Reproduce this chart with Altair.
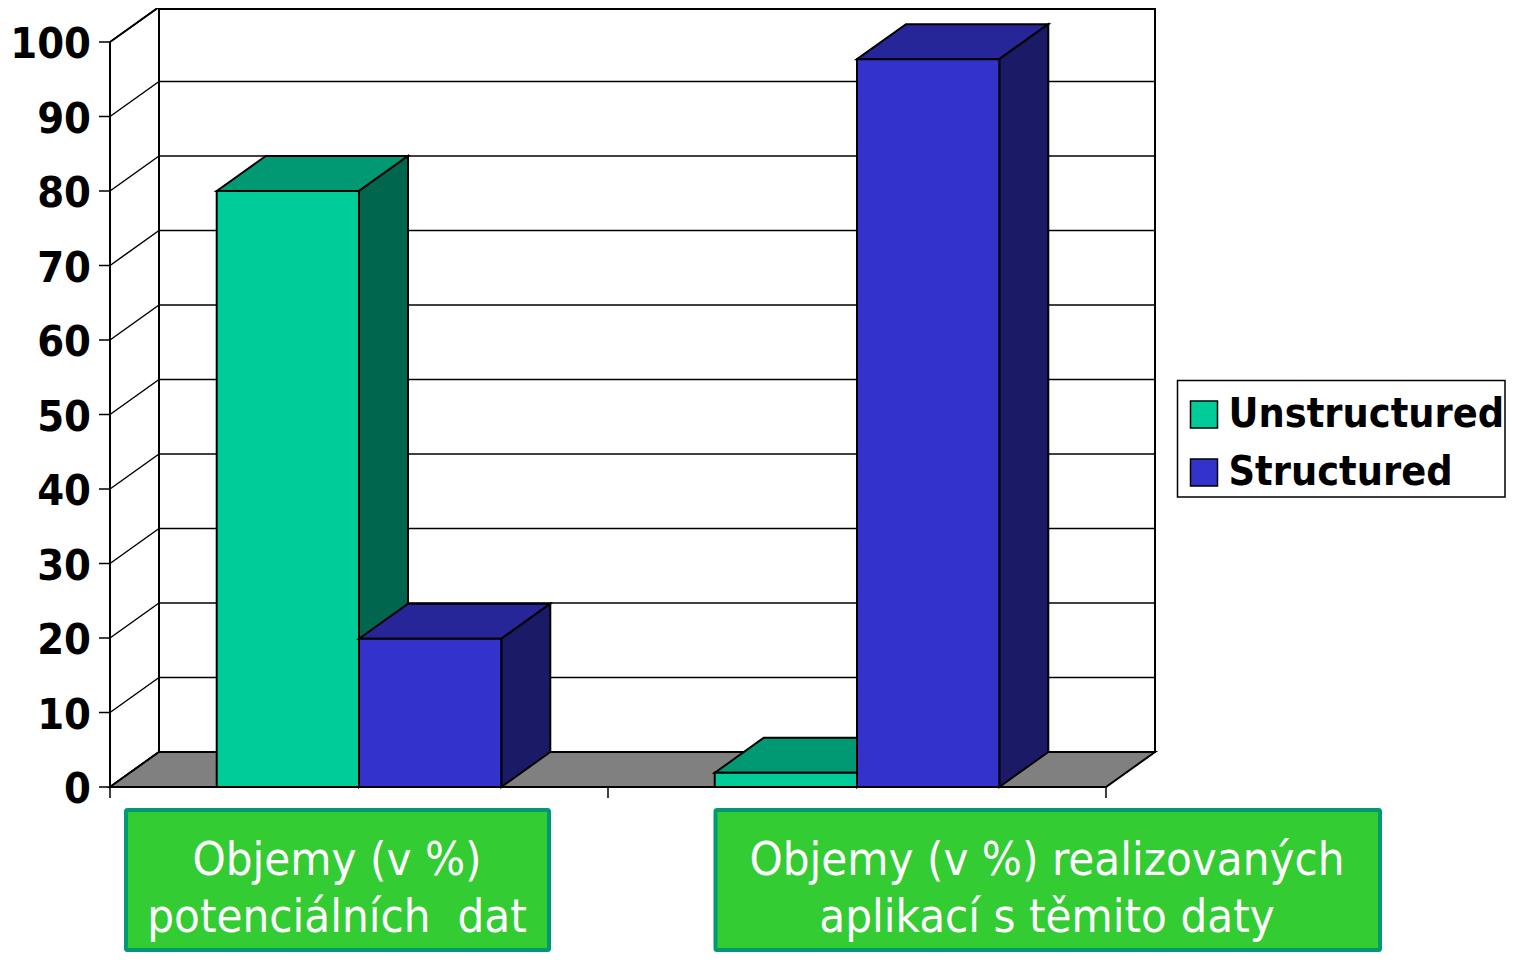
import altair as alt
import pandas as pd

categories = ["Objemy (v %) potenciálních dat", "Objemy (v %) realizovaných aplikací s těmito daty"]
series = ["Unstructured", "Structured"]
unstructured = [80, 1.9]
structured = [19.9, 97.7]
tick_values = [0, 10, 20, 30, 40, 50, 60, 70, 80, 90, 100]
box_lines = [["Objemy (v %)", "potenciálních\u00a0 dat"], ["Objemy (v %) realizovaných", "aplikací s těmito daty"]]

FONT = "DejaVu Sans Condensed"
colors = {
    "Unstructured": ("#00CC99", "#009973", "#00664D"),
    "Structured": ("#3333CC", "#262699", "#1A1A66"),
}

# page pixels <-> scale units
X0, XU, Y0, YU = 110.0, 498.0, 787.0, 7.45
W, H = 1498, 944
def ux(px): return (px - X0) / XU
def uy(py): return (Y0 - py) / YU

DX = 49 / XU
DY = 35 / YU
BAR = 1 / 3.5
TOP = 100

x_scale = alt.Scale(domain=[ux(8), ux(8 + W)], nice=False, zero=False)
y_scale = alt.Scale(domain=[uy(8 + H), uy(8)], nice=False, zero=False)
X = lambda f="x": alt.X(f"{f}:Q", scale=x_scale, axis=None, title=None)
Y = lambda f="y": alt.Y(f"{f}:Q", scale=y_scale, axis=None, title=None)
X2 = lambda f="x2": alt.X2(f"{f}:Q")
Y2 = lambda f="y2": alt.Y2(f"{f}:Q")


def area(rows, fill, sw=2.0):
    return alt.Chart(pd.DataFrame(rows)).mark_area(fill=fill, stroke="black", strokeWidth=sw, opacity=1).encode(
        x=X(), y=Y(), y2=Y2(), detail="k:N"
    )


def rules(rows, sw=1.5):
    return alt.Chart(pd.DataFrame(rows)).mark_rule(color="black", strokeWidth=sw).encode(
        x=X(), x2=X2(), y=Y(), y2=Y2()
    )


layers = []

# left wall and back wall
layers.append(area([
    {"k": "w", "x": 0, "y": TOP, "y2": 0},
    {"k": "w", "x": DX, "y": TOP + DY, "y2": DY},
], "white"))
layers.append(alt.Chart(pd.DataFrame([{"x": DX, "x2": 2 + DX, "y": DY, "y2": uy(9)}])).mark_rect(
    fill="white", stroke="black", strokeWidth=2).encode(x=X(), x2=X2(), y=Y(), y2=Y2()))

# gridlines
layers.append(rules([{"x": DX, "x2": 2 + DX, "y": t + DY, "y2": t + DY} for t in tick_values[:-1]]))
layers.append(rules([{"x": 0, "x2": DX, "y": t, "y2": t + DY} for t in tick_values]))

# floor
layers.append(area([
    {"k": "f", "x": 0, "y": 0, "y2": 0},
    {"k": "f", "x": DX, "y": DY, "y2": 0},
    {"k": "f", "x": 2, "y": DY, "y2": 0},
    {"k": "f", "x": 2 + DX, "y": DY, "y2": DY},
], "#808080"))

# legend frame
layers.append(alt.Chart(pd.DataFrame([{"x": ux(1177.5), "x2": ux(1505), "y": uy(380.5), "y2": uy(497)}])).mark_rect(
    fill="transparent", stroke="black", strokeWidth=1.5).encode(x=X(), x2=X2(), y=Y(), y2=Y2()))

# bars, one series after the other
for s_i, (name, vals) in enumerate(zip(series, [unstructured, structured])):
    front, top_c, side_c = colors[name]
    tops, sides, fronts = [], [], []
    for c_i, v in enumerate(vals):
        a = c_i + 0.75 / 3.5 + s_i * BAR
        b = a + BAR
        tops += [
            {"k": c_i, "x": a, "y": v, "y2": v},
            {"k": c_i, "x": a + DX, "y": v + DY, "y2": v},
            {"k": c_i, "x": b, "y": v + DY, "y2": v},
            {"k": c_i, "x": b + DX, "y": v + DY, "y2": v + DY},
        ]
        sides += [
            {"k": c_i, "x": b, "y": v, "y2": 0},
            {"k": c_i, "x": b + DX, "y": v + DY, "y2": DY},
        ]
        fronts.append({"series": name, "x": a, "x2": b, "y": 0, "y2": v})
    layers.append(area(tops, top_c))
    layers.append(area(sides, side_c))
    layers.append(alt.Chart(pd.DataFrame(fronts)).mark_rect(stroke="black", strokeWidth=2, opacity=1).encode(
        x=X(), x2=X2(), y=Y(), y2=Y2(),
        color=alt.Color("series:N",
                        scale=alt.Scale(domain=series, range=[colors[s][0] for s in series]),
                        sort=series,
                        legend=alt.Legend(
                            title=None, orient="none", legendX=1162.5, legendY=373,
                            padding=13,
                            symbolType="square", symbolSize=729, symbolStrokeColor="black",
                            symbolStrokeWidth=1.5, symbolOpacity=1,
                            labelFont=FONT, labelFontWeight="bold", labelFontSize=41,
                            labelColor="black", labelOffset=4, rowPadding=16,
                            labelLimit=400,
                        )),
    ))

# axis lines and tick marks
layers.append(rules([{"x": 0, "x2": 0, "y": 0, "y2": TOP}], 2.0))
layers.append(rules([{"x": 0, "x2": 2, "y": 0, "y2": 0}], 2.0))
layers.append(rules([{"x": ux(99), "x2": 0, "y": t, "y2": t} for t in tick_values]))
layers.append(rules([{"x": i, "x2": i, "y": 0, "y2": uy(798)} for i in range(3)]))

# y tick labels
layers.append(alt.Chart(pd.DataFrame({"x": [ux(91)] * len(tick_values), "y": tick_values, "t": [str(t) for t in tick_values]}))
    .mark_text(font=FONT, fontWeight="bold", fontSize=43, align="right", baseline="middle", color="black", dy=3)
    .encode(x=X(), y=Y(), text="t:N"))

# green category boxes
boxes = [
    {"x": ux(126), "x2": ux(549), "y": uy(810), "y2": uy(950), "cx": ux(337)},
    {"x": ux(715.5), "x2": ux(1380), "y": uy(810), "y2": uy(950), "cx": ux(1047)},
]
layers.append(alt.Chart(pd.DataFrame(boxes)).mark_rect(
    fill="#33CC33", stroke="#009973", strokeWidth=4, cornerRadius=1.5).encode(x=X(), x2=X2(), y=Y(), y2=Y2()))
text_rows = []
for b, lines in zip(boxes, box_lines):
    for py, line in zip([875, 932], lines):
        text_rows.append({"x": b["cx"], "y": uy(py), "t": line})
layers.append(alt.Chart(pd.DataFrame(text_rows)).mark_text(
    font=FONT, fontSize=47, align="center", baseline="alphabetic", color="white").encode(x=X(), y=Y(), text="t:N"))

chart = alt.layer(*layers).properties(
    width=W, height=H, padding=0, autosize=alt.AutoSizeParams(type="none"), background="white"
).configure_view(stroke=None)

chart.save("out.html", embed_options={"renderer": "svg", "actions": False})
